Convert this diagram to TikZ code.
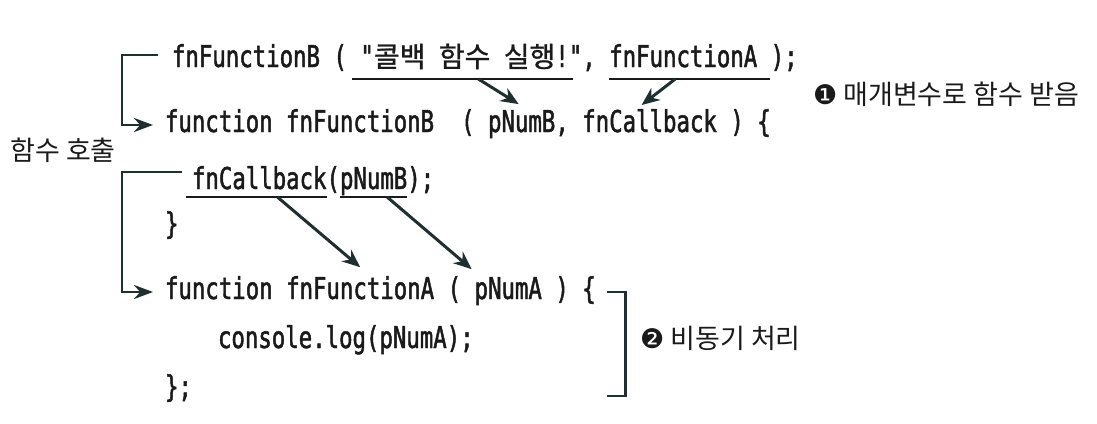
\documentclass[tikz,border=0pt]{standalone}
\usepackage{fontspec}
\newfontfamily\codefont[FakeStretch=0.745, FakeBold=1.6]{DejaVu Sans Mono}
\newfontfamily\krfont{Noto Sans CJK KR}
\newfontfamily\krcode[FakeBold=1]{Noto Sans CJK KR}
\newfontfamily\symfont{DejaVu Sans}
\usetikzlibrary{arrows.meta, positioning, calc}
\definecolor{cink}{HTML}{1A1A1A}
\definecolor{cline}{HTML}{1E2F30}
\newcommand\codekr[1]{{\krcode\fontsize{28}{30}\selectfont #1}}
\tikzset{
  code/.style={font=\codefont\fontsize{30}{36}\selectfont, text=cink, inner sep=0pt, outer sep=0pt, anchor=base west},
  note/.style={font=\krfont\fontsize{27}{32}\selectfont, text=cink, inner sep=0pt},
  uline/.style={draw=cink, line width=2.6pt},
  brk/.style={draw=cline, line width=2.8pt},
  brkarrow/.style={brk, -{Stealth[length=19pt, width=14pt]}},
  arrow/.style={-{Stealth[length=18pt, width=15pt]}, draw=cline, line width=3pt},
}

\begin{document}
\begin{tikzpicture}[x=1pt, y=-1pt]
  \useasboundingbox (0,0) rectangle (1097,423);
  % line 1: the call
  \node[code] (l1a) at (172,67) {fnFunctionB (};
  \node[code, base right=13.5pt of l1a] (l1msg) {"\codekr{콜백} \codekr{함수} \codekr{실행}!"};
  \node[code, base right=0pt of l1msg] (l1b) {,};
  \node[code, base right=13.5pt of l1b] (l1fa) {fnFunctionA};
  \node[code, base right=13.5pt of l1fa] (l1c) {);};
  % line 2
  \node[code] (l2a) at (165,132) {function fnFunctionB};
  \node[code, base right=27pt of l2a] (l2b) {(};
  \node[code, base right=13.5pt of l2b] (pnumb) {pNumB};
  \node[code, base right=0pt of pnumb] (l2c) {,};
  \node[code, base right=13.5pt of l2c] (cbparam) {fnCallback};
  \node[code, base right=13.5pt of cbparam] (l2d) {) \{};
  % line 3
  \node[code] (cbcall) at (192,189) {fnCallback};
  \node[code, base right=0pt of cbcall] (l3a) {(};
  \node[code, base right=0pt of l3a] (cbarg) {pNumB};
  \node[code, base right=0pt of cbarg] (l3b) {);};
  \node[code] (close1) at (165,234) {\}};
  % line 4 .. 6
  \node[code] (l4a) at (165,299) {function};
  \node[code, base right=13.5pt of l4a] (fnA) {fnFunctionA};
  \node[code, base right=13.5pt of fnA] (l4b) {(};
  \node[code, base right=13.5pt of l4b] (pnuma) {pNumA};
  \node[code, base right=13.5pt of pnuma] (l4c) {) \{};
  \node[code] (log) at (218,348) {console.log(pNumA);};
  \node[code] (close2) at (165,397) {\};};
  % underlines
  \draw[uline] ([xshift=-8pt, yshift=-12pt]l1msg.base west) -- coordinate[pos=0.57] (u1) ([xshift=-9pt, yshift=-12pt]l1msg.base east);
  \draw[uline] ([yshift=-12pt]l1fa.base west) -- coordinate[pos=0.41] (u2) ([xshift=13pt, yshift=-12pt]l1fa.base east);
  \draw[uline] ([xshift=-6pt, yshift=-8pt]cbcall.base west) -- coordinate[pos=0.65] (u3) ([yshift=-8pt]cbcall.base east);
  \draw[uline] ([yshift=-8pt]cbarg.base west) -- coordinate[pos=0.7] (u4) ([yshift=-8pt]cbarg.base east);
  % arrows
  \draw[arrow] (u1) -- ([xshift=-3pt, yshift=6pt]pnumb.north);
  \draw[arrow] (u2) -- ([xshift=-8pt, yshift=4pt]cbparam.north);
  \draw[arrow] (u3) -- ([yshift=9pt]fnA.north);
  \draw[arrow] (u4) -- ([xshift=-3pt, yshift=8pt]pnuma.north west);
  % brackets
  \draw[brkarrow] ([xshift=-14pt, yshift=12pt]l1a.base west) -- ++(-36pt,0) |- ([xshift=-12pt, yshift=7pt]l2a.base west);
  \draw[brkarrow] ([xshift=-10pt, yshift=17pt]cbcall.base west) -- ++(-60pt,0) |- ([xshift=-12pt, yshift=7pt]l4a.base west);
  \draw[brk] ([xshift=11pt, yshift=7pt]l4c.base east) -- ++(19pt,0) -- ++(0,-104pt) -- ++(-19pt,0);
  % notes
  \node[note] (callnote) at (63,150) {함수 호출};
  \node[note, anchor=west] (paramnote) at (813,94) {{\symfont ❶} 매개변수로 함수 받음};
  \node[note, anchor=west] (asyncnote) at (640,338) {{\symfont ❷} 비동기 처리};
\end{tikzpicture}
\end{document}
